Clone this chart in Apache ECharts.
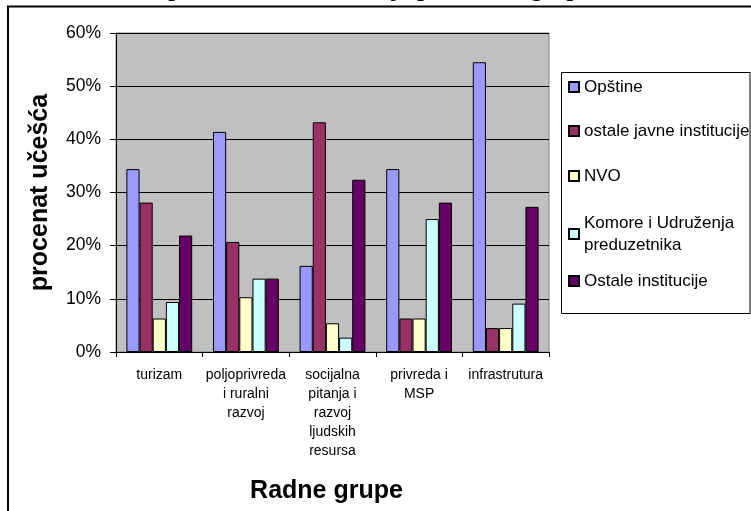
<!DOCTYPE html>
<html>
<head>
<meta charset="utf-8">
<script src="https://cdn.jsdelivr.net/npm/echarts@6/dist/echarts.min.js"></script>
<style>
html,body{margin:0;padding:0;background:#fff;}
#chart{width:751px;height:511px;}
</style>
</head>
<body>
<div id="chart"></div>
<script>
var titleText = 'Učešće predstavnika institucija po radnim grupama';
var categories = ['turizam', 'poljoprivreda\ni ruralni\nrazvoj', 'socijalna\npitanja i\nrazvoj\nljudskih\nresursa', 'privreda i\nMSP', 'infrastrutura'];
var seriesNames = ['Opštine', 'ostale javne institucije', 'NVO', 'Komore i Udruženja\npreduzetnika', 'Ostale institucije'];
var opstine = [34.4, 41.4, 16.2, 34.4, 54.5];
var ostaleJavne = [28.1, 20.7, 43.2, 6.3, 4.5];
var nvo = [6.3, 10.3, 5.4, 6.3, 4.5];
var komore = [9.4, 13.8, 2.7, 25.0, 9.1];
var ostaleInstitucije = [21.9, 13.8, 32.4, 28.1, 27.3];
var colors = ['#9999FF', '#993366', '#FFFFCC', '#CCFFFF', '#660066'];
var yTickLabels = ['0%', '10%', '20%', '30%', '40%', '50%', '60%'];

var allData = [opstine, ostaleJavne, nvo, komore, ostaleInstitucije];
var legendCenters = [87, 131, 176, 234, 281];
var legendHeights = [22, 22, 22, 44, 22];

var chart = echarts.init(document.getElementById('chart'), null, {renderer: 'canvas'});
var font = 'Liberation Sans';

var legends = seriesNames.map(function (n, i) {
  return {
    data: [n],
    orient: 'vertical',
    left: 568,
    top: legendCenters[i] - legendHeights[i] / 2,
    padding: 0,
    itemWidth: 10,
    itemHeight: 10,
    icon: 'rect',
    selectedMode: false,
    textStyle: {fontFamily: font, fontSize: 17, color: '#000', lineHeight: 22}
  };
});

var option = {
  animation: false,
  backgroundColor: '#fff',
  title: {
    text: titleText,
    left: 93,
    top: -22,
    padding: 0,
    textStyle: {fontFamily: 'Liberation Serif', fontWeight: 'bold', fontSize: 24, color: '#000'}
  },
  legend: legends,
  graphic: [
    {type: 'rect', shape: {x: 8, y: 6.5, width: 1000, height: 1000}, style: {fill: 'none', stroke: '#000', lineWidth: 2}, z: 0},
    {type: 'rect', shape: {x: 561.5, y: 72.5, width: 188.5, height: 241}, style: {fill: '#fff', stroke: '#000', lineWidth: 1}, z: 0}
  ],
  grid: {
    left: 116, top: 33, width: 433, height: 319,
    show: true, backgroundColor: '#C0C0C0', borderColor: '#808080', borderWidth: 1
  },
  xAxis: {
    type: 'category',
    data: categories,
    name: 'Radne grupe',
    nameLocation: 'middle',
    nameGap: 127,
    nameTextStyle: {fontFamily: font, fontWeight: 'bold', fontSize: 25, color: '#000', padding: [0, 12, 0, 0]},
    axisLine: {lineStyle: {color: '#000', width: 1}},
    axisTick: {show: true, length: 5, inside: false, lineStyle: {color: '#000'}},
    axisLabel: {interval: 0, margin: 14, fontFamily: font, fontSize: 14, color: '#000', lineHeight: 19},
    splitLine: {show: false}
  },
  yAxis: {
    type: 'value',
    min: 0, max: 60, interval: 10,
    name: 'procenat učešća',
    nameLocation: 'middle',
    nameGap: 63,
    nameTextStyle: {fontFamily: font, fontWeight: 'bold', fontSize: 25, color: '#000'},
    axisLine: {show: true, lineStyle: {color: '#000', width: 1}},
    axisTick: {show: true, length: 6, lineStyle: {color: '#000'}},
    axisLabel: {
      margin: 15, fontFamily: font, fontSize: 17.5, color: '#000',
      formatter: function (v) { return yTickLabels[Math.round(v / 10)]; }
    },
    splitLine: {show: true, lineStyle: {color: '#000', width: 1}}
  },
  series: seriesNames.map(function (n, i) {
    return {
      name: n,
      type: 'bar',
      data: allData[i],
      barGap: '0%',
      barCategoryGap: '24%',
      itemStyle: {color: colors[i], borderColor: '#000', borderWidth: 1}
    };
  })
};
chart.setOption(option);
</script>
</body>
</html>
